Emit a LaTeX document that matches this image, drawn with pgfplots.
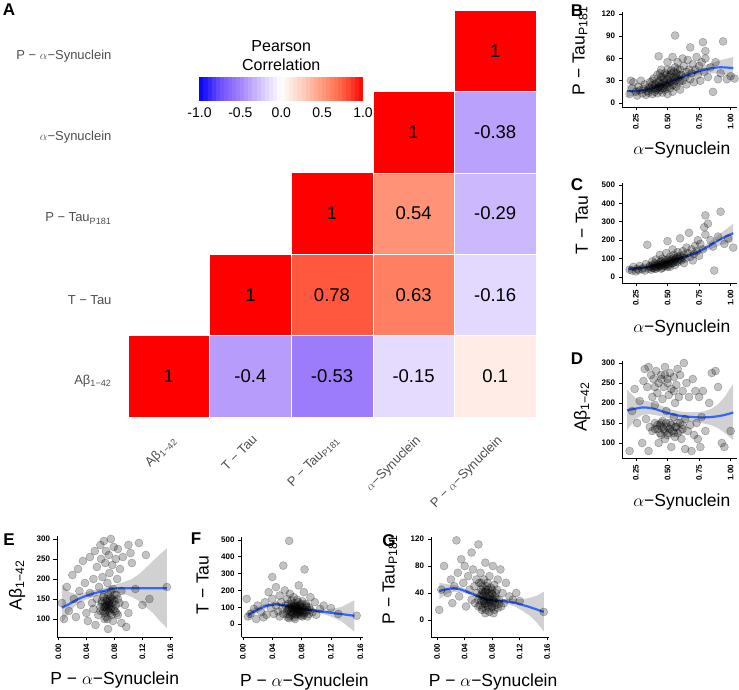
\documentclass[border=0pt]{standalone}
\usepackage{pgfplots}
\pgfplotsset{compat=1.18}
\usepackage{pgfplotstable}
\usepackage{fontspec}
\setmainfont{Liberation Sans}
\definecolor{axgray}{HTML}{4D4D4D}
\definecolor{fitblue}{HTML}{3366FF}
\pgfplotsset{
  colormap={corr}{rgb255(0cm)=(0,0,255) rgb255(1cm)=(110,80,255) rgb255(2cm)=(163,130,251) rgb255(3cm)=(212,196,253) rgb255(4cm)=(255,255,255) rgb255(5cm)=(255,208,193) rgb255(6cm)=(255,155,128) rgb255(7cm)=(255,100,70) rgb255(8cm)=(255,0,0)},
  sc/.style={scale only axis, axis x line*=bottom, axis y line*=left,
    axis line style={line width=0.8pt,-}, tick style={line width=0.8pt,black},
    tick align=outside, major tick length=3.5pt,
    x tick label style={rotate=90, anchor=east, font=\bfseries\fontsize{8}{9}\selectfont},
    y tick label style={font=\bfseries\fontsize{8}{9}\selectfont},
    /pgf/number format/assume math mode=true,
    label style={font=\fontsize{17.5}{20}\selectfont},
  },
  pts/.style={only marks, mark=*, mark size=4pt, mark options={fill=black, fill opacity=0.24, draw=black, draw opacity=0.28, line width=0.5pt}},
  band/.style={fill=black!40, fill opacity=0.45, draw=none, no marks},
  fitl/.style={color=fitblue, line width=2.2pt, no marks, smooth},
}
% correlation matrix (lower triangle)
\pgfplotstableread{
x y c lbl
1 1 1 1
2 1 -0.40 -0.4
3 1 -0.53 -0.53
4 1 -0.15 -0.15
5 1 0.10 0.1
2 2 1 1
3 2 0.78 0.78
4 2 0.63 0.63
5 2 -0.16 -0.16
3 3 1 1
4 3 0.54 0.54
5 3 -0.29 -0.29
4 4 1 1
5 4 -0.38 -0.38
5 5 1 1
}\corrtab
% B: alpha-Syn vs P-Tau
\pgfplotstableread{
x y
0.20 12
0.21 30
0.22 20
0.23 28
0.25 15
0.26 10
0.27 22
0.28 17
0.29 30
0.30 13
0.31 19
0.32 25
0.33 11
0.34 16
0.35 21
0.35 14
0.36 28
0.37 18
0.38 12
0.38 24
0.39 33
0.40 15
0.40 20
0.41 27
0.42 13
0.42 38
0.43 22
0.43 63
0.44 17
0.44 30
0.45 25
0.45 45
0.46 14
0.46 35
0.47 20
0.47 28
0.48 40
0.48 18
0.49 24
0.50 32
0.50 12
0.50 55
0.51 27
0.52 38
0.52 20
0.53 44
0.53 30
0.54 15
0.54 62
0.55 35
0.55 25
0.56 48
0.56 91
0.57 22
0.57 40
0.58 33
0.58 55
0.59 28
0.60 45
0.60 18
0.61 38
0.62 60
0.62 30
0.63 50
0.64 35
0.65 25
0.65 42
0.66 58
0.67 45
0.68 32
0.68 75
0.69 40
0.70 52
0.71 28
0.72 45
0.73 62
0.74 38
0.75 50
0.76 30
0.77 55
0.78 82
0.79 42
0.80 70
0.80 60
0.82 35
0.84 48
0.86 15
0.88 55
0.90 32
0.92 40
0.94 83
0.97 32
1.00 36
1.03 33
0.36 20
0.38 30
0.40 25
0.41 18
0.43 28
0.44 22
0.45 35
0.46 20
0.47 32
0.48 25
0.49 38
0.50 22
0.51 35
0.52 28
0.53 40
0.54 24
0.55 42
0.56 30
0.57 35
0.58 45
0.59 38
0.60 30
0.44 40
0.50 45
0.42 20
}\ptsB
\pgfplotstableread{
x fit
0.18 16
0.25 16
0.30 17
0.35 19
0.40 21
0.45 24
0.50 27
0.55 31
0.60 34
0.65 37
0.70 40
0.75 43
0.80 45
0.85 47
0.90 48
0.95 48
1.02 47
}\fitB
\pgfplotstableread{
x y
0.18 24
0.25 21
0.30 21
0.35 23
0.40 25
0.45 27
0.50 30
0.55 34
0.60 38
0.65 41
0.70 45
0.75 48
0.80 51
0.85 54
0.90 57
0.95 59
1.02 62
1.02 33
0.95 38
0.90 40
0.85 40
0.80 40
0.75 38
0.70 36
0.65 33
0.60 30
0.55 27
0.50 23
0.45 20
0.40 17
0.35 15
0.30 13
0.25 11
0.18 8
}\bandB
% C: alpha-Syn vs T-Tau
\pgfplotstableread{
x y
0.20 40
0.22 35
0.23 55
0.25 30
0.26 45
0.27 38
0.28 60
0.30 42
0.31 50
0.32 35
0.33 70
0.34 175
0.35 45
0.36 55
0.37 40
0.38 65
0.38 85
0.39 50
0.40 60
0.41 45
0.41 95
0.42 70
0.43 55
0.44 80
0.44 120
0.45 65
0.46 50
0.46 100
0.47 75
0.48 90
0.48 60
0.49 130
0.50 70
0.50 195
0.51 85
0.52 110
0.52 55
0.53 95
0.54 75
0.54 150
0.55 120
0.55 90
0.56 65
0.57 105
0.58 135
0.58 80
0.59 100
0.60 210
0.60 115
0.61 90
0.62 140
0.63 75
0.63 120
0.64 100
0.65 160
0.66 130
0.67 240
0.68 110
0.69 150
0.70 90
0.71 125
0.72 170
0.73 140
0.74 200
0.75 115
0.76 180
0.78 150
0.79 270
0.80 335
0.80 230
0.82 290
0.84 200
0.86 165
0.87 35
0.90 220
0.92 355
0.95 180
0.98 210
1.02 160
0.36 60
0.38 50
0.40 75
0.41 55
0.43 65
0.44 60
0.45 85
0.46 70
0.47 60
0.48 80
0.49 70
0.50 95
0.51 65
0.52 85
0.53 75
0.54 100
0.55 80
0.56 95
0.57 85
0.58 110
0.60 95
0.62 105
0.45 45
0.50 55
0.40 45
}\ptsC
\pgfplotstableread{
x fit
0.19 43
0.25 47
0.30 50
0.35 54
0.40 62
0.45 72
0.50 82
0.55 92
0.60 102
0.65 113
0.70 124
0.75 140
0.80 157
0.85 178
0.90 198
0.95 216
1.02 238
}\fitC
\pgfplotstableread{
x y
0.19 58
0.25 56
0.30 56
0.35 60
0.40 68
0.45 78
0.50 88
0.55 98
0.60 110
0.65 122
0.70 135
0.75 154
0.80 174
0.85 200
0.90 228
0.95 252
1.02 290
1.02 190
0.95 180
0.90 168
0.85 155
0.80 140
0.75 126
0.70 113
0.65 104
0.60 94
0.55 86
0.50 76
0.45 66
0.40 56
0.35 49
0.30 44
0.25 38
0.19 28
}\bandC
% D: alpha-Syn vs Abeta
\pgfplotstableread{
x y
0.20 80
0.22 180
0.24 235
0.26 150
0.28 205
0.30 100
0.31 255
0.32 285
0.33 160
0.34 240
0.35 80
0.35 290
0.36 140
0.37 270
0.38 215
0.38 130
0.39 260
0.40 150
0.40 195
0.41 280
0.42 135
0.42 225
0.43 100
0.43 250
0.44 145
0.45 270
0.45 120
0.46 210
0.46 155
0.47 240
0.47 135
0.48 290
0.48 110
0.49 180
0.50 260
0.50 140
0.51 125
0.51 220
0.52 275
0.52 150
0.53 90
0.53 235
0.54 130
0.55 265
0.55 165
0.56 200
0.56 115
0.57 245
0.57 140
0.58 285
0.58 125
0.59 215
0.60 150
0.60 270
0.61 110
0.62 230
0.62 135
0.63 300
0.64 160
0.64 85
0.65 250
0.66 130
0.67 215
0.68 145
0.69 80
0.70 260
0.71 120
0.72 230
0.73 150
0.74 110
0.75 215
0.76 90
0.77 165
0.78 230
0.80 130
0.83 200
0.85 275
0.88 280
0.90 240
0.93 100
0.95 90
1.00 130
0.40 135
0.42 145
0.44 125
0.45 150
0.46 140
0.48 130
0.49 150
0.50 120
0.52 135
0.53 145
0.55 125
0.56 140
0.58 150
0.60 130
0.62 145
0.45 260
0.50 250
0.40 240
0.55 230
0.48 270
}\ptsD
\pgfplotstableread{
x fit
0.18 182
0.25 186
0.30 189
0.35 188
0.40 185
0.45 180
0.50 175
0.55 171
0.60 168
0.65 166
0.70 165
0.75 164
0.80 164
0.85 165
0.90 167
0.95 170
1.02 176
}\fitD
\pgfplotstableread{
x y
0.18 233
0.25 212
0.30 207
0.35 204
0.40 199
0.45 193
0.50 187
0.55 182
0.60 179
0.65 177
0.70 177
0.75 177
0.80 180
0.85 186
0.90 197
0.95 214
1.02 248
1.02 107
0.95 126
0.90 137
0.85 144
0.80 148
0.75 151
0.70 153
0.65 155
0.60 157
0.55 160
0.50 163
0.45 167
0.40 170
0.35 172
0.30 170
0.25 160
0.18 132
}\bandD
% E: P-alpha-Syn vs Abeta
\pgfplotstableread{
x y
0.005 140
0.008 100
0.012 180
0.015 120
0.020 210
0.022 150
0.025 105
0.028 225
0.030 170
0.032 135
0.035 245
0.038 190
0.040 115
0.042 95
0.045 255
0.045 165
0.048 140
0.050 200
0.050 125
0.052 270
0.053 85
0.055 150
0.055 230
0.057 110
0.058 180
0.060 285
0.060 130
0.061 250
0.062 145
0.063 205
0.064 120
0.065 295
0.065 160
0.065 130
0.066 100
0.066 140
0.067 240
0.068 135
0.068 270
0.068 120
0.069 150
0.070 190
0.070 125
0.070 135
0.071 75
0.072 260
0.072 140
0.072 130
0.073 215
0.073 145
0.074 115
0.075 300
0.075 155
0.075 125
0.076 130
0.077 235
0.077 150
0.078 95
0.078 175
0.079 280
0.080 145
0.081 120
0.082 250
0.083 160
0.084 200
0.085 110
0.085 275
0.087 140
0.088 225
0.090 90
0.090 170
0.092 255
0.095 135
0.097 80
0.100 285
0.100 115
0.103 265
0.105 240
0.110 175
0.115 290
0.120 135
0.125 260
0.130 150
0.155 180
0.060 120
0.062 140
0.064 155
0.066 115
0.067 130
0.069 145
0.071 160
0.072 120
0.073 135
0.074 150
0.076 110
0.077 140
0.079 125
0.080 160
0.082 135
0.083 115
0.085 150
0.068 105
0.075 170
0.070 100
}\ptsE
\pgfplotstableread{
x fit
0.005 128
0.015 137
0.025 147
0.035 155
0.045 161
0.055 166
0.065 170
0.075 175
0.085 177
0.095 177
0.105 177
0.115 177
0.125 177
0.135 177
0.145 177
0.155 177
}\fitE
\pgfplotstableread{
x y
0.005 186
0.015 168
0.025 162
0.035 165
0.045 170
0.055 174
0.065 177
0.075 183
0.085 188
0.095 193
0.105 200
0.115 212
0.125 228
0.135 245
0.145 262
0.155 277
0.155 77
0.145 95
0.135 115
0.125 130
0.115 145
0.105 155
0.095 162
0.085 166
0.075 167
0.065 163
0.055 158
0.045 152
0.035 145
0.025 135
0.015 115
0.005 90
}\bandE
% F: P-alpha-Syn vs T-Tau
\pgfplotstableread{
x y
0.005 150
0.007 45
0.010 60
0.015 90
0.018 30
0.020 110
0.025 70
0.028 40
0.030 130
0.032 55
0.035 190
0.038 95
0.040 150
0.040 280
0.042 60
0.045 220
0.045 110
0.048 75
0.050 170
0.050 45
0.052 130
0.054 90
0.055 348
0.055 60
0.057 200
0.058 110
0.060 80
0.060 150
0.061 40
0.062 120
0.063 495
0.063 95
0.064 180
0.065 70
0.065 100
0.066 140
0.067 55
0.068 105
0.068 90
0.069 160
0.070 85
0.070 125
0.070 110
0.071 30
0.072 110
0.072 95
0.073 60
0.074 145
0.074 105
0.075 90
0.075 80
0.076 230
0.077 75
0.078 115
0.078 70
0.079 50
0.080 100
0.080 120
0.081 135
0.082 65
0.083 190
0.084 325
0.085 85
0.086 120
0.088 45
0.090 100
0.092 160
0.095 70
0.098 130
0.100 55
0.105 90
0.110 110
0.120 95
0.130 60
0.155 50
0.060 60
0.062 85
0.064 50
0.066 75
0.067 95
0.069 65
0.071 80
0.072 55
0.073 100
0.074 70
0.076 90
0.077 60
0.079 85
0.080 75
0.082 95
0.083 55
0.085 70
0.087 100
0.088 80
0.090 60
0.066 115
0.070 40
0.075 130
0.081 45
0.078 105
0.063 35
0.086 110
0.092 85
}\ptsF
\pgfplotstableread{
x fit
0.007 53
0.015 75
0.025 96
0.035 112
0.045 118
0.055 112
0.065 104
0.075 94
0.085 88
0.095 82
0.105 76
0.115 70
0.125 64
0.135 59
0.152 49
}\fitF
\pgfplotstableread{
x y
0.007 82
0.015 95
0.025 112
0.035 124
0.045 128
0.055 120
0.065 110
0.075 99
0.085 94
0.095 90
0.105 87
0.115 88
0.125 93
0.135 103
0.152 142
0.152 -45
0.135 15
0.125 35
0.115 52
0.105 65
0.095 74
0.085 82
0.075 89
0.065 98
0.055 104
0.045 108
0.035 100
0.025 80
0.015 55
0.007 25
}\bandF
% G: P-alpha-Syn vs P-Tau
\pgfplotstableread{
x y
0.003 15
0.006 45
0.010 80
0.015 40
0.020 60
0.022 25
0.025 50
0.028 118
0.030 70
0.032 35
0.035 90
0.038 55
0.040 80
0.042 20
0.045 65
0.047 45
0.050 100
0.050 30
0.052 75
0.054 50
0.055 25
0.057 60
0.058 40
0.060 112
0.060 20
0.061 55
0.062 35
0.063 70
0.064 45
0.065 15
0.065 38
0.066 50
0.067 30
0.068 60
0.068 28
0.069 40
0.070 85
0.070 25
0.070 42
0.071 45
0.072 35
0.072 50
0.073 55
0.074 20
0.075 40
0.075 32
0.076 65
0.077 30
0.078 48
0.079 18
0.080 38
0.080 45
0.081 80
0.082 28
0.083 52
0.084 35
0.085 22
0.087 45
0.088 60
0.090 30
0.092 75
0.095 40
0.097 25
0.100 55
0.105 35
0.110 30
0.115 40
0.120 28
0.155 12
0.060 30
0.062 22
0.064 28
0.066 18
0.067 35
0.069 24
0.071 15
0.072 30
0.073 22
0.075 27
0.076 12
0.077 35
0.078 25
0.080 20
0.081 30
0.083 15
0.084 26
0.086 32
0.088 18
0.090 24
0.066 42
0.070 10
0.074 45
0.079 40
0.082 10
0.093 20
0.064 55
0.085 40
}\ptsG
\pgfplotstableread{
x fit
0.003 43
0.015 46
0.025 47
0.035 45
0.045 41
0.055 37
0.065 33
0.075 30
0.085 28.5
0.095 28
0.105 27
0.115 25
0.125 22
0.135 19
0.145 15.5
0.155 12
}\fitG
\pgfplotstableread{
x y
0.003 55
0.015 53
0.025 52
0.035 49
0.045 44
0.055 39.5
0.065 35
0.075 32
0.085 31
0.095 31
0.105 31
0.115 31
0.125 31
0.135 33
0.145 36
0.155 42
0.155 -17
0.145 -4
0.135 6
0.125 13
0.115 19
0.105 23
0.095 25
0.085 26
0.075 28
0.065 31
0.055 34.5
0.045 38
0.035 41
0.025 42
0.015 39
0.003 31
}\bandG
\begin{document}
\begin{tikzpicture}
\path[use as bounding box] (0,0) rectangle (739pt,690pt);
% ---------------- A: heatmap ----------------
\begin{axis}[at={(128pt,273pt)}, anchor=south west, scale only axis,
  width=408pt, height=407pt,
  xmin=0.5, xmax=5.5, ymin=0.5, ymax=5.5,
  axis line style={draw=none}, major tick length=0pt,
  xtick={1,...,5}, ytick={1,...,5},
  xticklabels={Aβ\textsubscript{1−42}, T − Tau, P − Tau\textsubscript{P181}, $\alpha$−Synuclein, P − $\alpha$−Synuclein},
  yticklabels={Aβ\textsubscript{1−42}, T − Tau, P − Tau\textsubscript{P181}, $\alpha$−Synuclein, P − $\alpha$−Synuclein},
  xticklabel style={font=\fontsize{13}{13}\selectfont, text=axgray, inner sep=0pt, xshift=1pt, yshift=-17pt, rotate=45, anchor=north east},
  yticklabel style={font=\fontsize{13}{13}\selectfont, text=axgray, xshift=-13pt, yshift=-5pt},
  colormap name=corr, point meta min=-1, point meta max=1,
  clip=false,
]
\addplot[scatter, only marks, mark=square*, mark size=40.8pt,
  scatter src=explicit,
  scatter/use mapped color={draw=white, fill=mapped color, line width=0.6pt},
] table[x=x, y=y, meta=c] {\corrtab};
\addplot[only marks, mark=none, point meta=explicit symbolic,
  nodes near coords,
  every node near coord/.append style={anchor=center, text=black, font=\fontsize{18.5}{20}\selectfont},
] table[x=x, y=y, meta=lbl] {\corrtab};
\end{axis}
% ---------------- colour key ----------------
\begin{axis}[at={(199.5pt,589pt)}, anchor=south west, scale only axis,
  width=163.5pt, height=24pt, xmin=-1, xmax=1, ymin=0, ymax=1,
  axis line style={draw=none}, ytick=\empty,
  xtick={-1,-0.5,0,0.5,1}, xticklabels={-1.0,-0.5,0.0,0.5,1.0},
  xtick pos=both, xticklabel pos=lower,
  xtick style={draw=white, line width=0.8pt}, major tick length=4pt, tick align=inside,
  xticklabel style={font=\fontsize{14}{14}\selectfont, yshift=-3pt},
  axis on top,
  colormap name=corr, point meta min=-1, point meta max=1,
  title={Pearson\\Correlation},
  title style={align=center, font=\fontsize{16}{19}\selectfont, at={(0.5,1)}, anchor=south, yshift=0pt, inner sep=0pt},
]
\addplot[scatter, only marks, mark=|, mark size=12pt, point meta=x,
  scatter/use mapped color={draw=mapped color, line width=4.4pt}]
coordinates {(-0.975,0.5) (-0.925,0.5) (-0.875,0.5) (-0.825,0.5) (-0.775,0.5) (-0.725,0.5) (-0.675,0.5) (-0.625,0.5) (-0.575,0.5) (-0.525,0.5)
(-0.475,0.5) (-0.425,0.5) (-0.375,0.5) (-0.325,0.5) (-0.275,0.5) (-0.225,0.5) (-0.175,0.5) (-0.125,0.5) (-0.075,0.5) (-0.025,0.5)
(0.025,0.5) (0.075,0.5) (0.125,0.5) (0.175,0.5) (0.225,0.5) (0.275,0.5) (0.325,0.5) (0.375,0.5) (0.425,0.5) (0.475,0.5)
(0.525,0.5) (0.575,0.5) (0.625,0.5) (0.675,0.5) (0.725,0.5) (0.775,0.5) (0.825,0.5) (0.875,0.5) (0.925,0.5) (0.975,0.5)};
\end{axis}
% ---------------- B ----------------
\begin{axis}[sc, at={(622pt,583pt)}, anchor=south west, width=115pt, height=95pt,
  xmin=0.14, xmax=1.05, ymin=-5.4, ymax=122.7,
  xtick={0.25,0.5,0.75,1}, xticklabels={0.25,0.50,0.75,1.00},
  ytick={0,30,60,90,120},
  xlabel={$\alpha$−Synuclein}, ylabel={P − Tau\textsubscript{P181}},
  xlabel style={at={(axis description cs:0.52,-0.45)}, anchor=center},
  ylabel style={at={(axis description cs:-0.365,0.59)}, anchor=center},
]
\addplot[pts] table[x=x,y=y] {\ptsB};
\addplot[band] table[x=x,y=y] {\bandB};
\addplot[fitl] table[x=x,y=fit] {\fitB};
\end{axis}
% ---------------- C ----------------
\begin{axis}[sc, at={(622pt,407pt)}, anchor=south west, width=115pt, height=100pt,
  xmin=0.14, xmax=1.05, ymin=-32.6, ymax=511,
  xtick={0.25,0.5,0.75,1}, xticklabels={0.25,0.50,0.75,1.00},
  ytick={0,100,200,300,400,500},
  xlabel={$\alpha$−Synuclein}, ylabel={T − Tau},
  xlabel style={at={(axis description cs:0.52,-0.45)}, anchor=center},
  ylabel style={at={(axis description cs:-0.348,0.58)}, anchor=center},
]
\addplot[pts] table[x=x,y=y] {\ptsC};
\addplot[band] table[x=x,y=y] {\bandC};
\addplot[fitl] table[x=x,y=fit] {\fitC};
\end{axis}
% ---------------- D ----------------
\begin{axis}[sc, at={(622pt,232pt)}, anchor=south west, width=115pt, height=97pt,
  xmin=0.14, xmax=1.05, ymin=62.5, ymax=305,
  xtick={0.25,0.5,0.75,1}, xticklabels={0.25,0.50,0.75,1.00},
  ytick={100,150,200,250,300},
  xlabel={$\alpha$−Synuclein}, ylabel={Aβ\textsubscript{1−42}},
  xlabel style={at={(axis description cs:0.52,-0.45)}, anchor=center},
  ylabel style={at={(axis description cs:-0.348,0.526)}, anchor=center},
]
\addplot[pts] table[x=x,y=y] {\ptsD};
\addplot[band] table[x=x,y=y] {\bandD};
\addplot[fitl] table[x=x,y=fit] {\fitD};
\end{axis}
% ---------------- E ----------------
\begin{axis}[sc, at={(57pt,53pt)}, anchor=south west, width=115.5pt, height=101pt,
  xmin=-0.002, xmax=0.163, ymin=55, ymax=307.5,
  xtick={0,0.04,0.08,0.12,0.16}, xticklabels={0.00,0.04,0.08,0.12,0.16},
  ytick={100,150,200,250,300},
  xlabel={P − $\alpha$−Synuclein}, ylabel={Aβ\textsubscript{1−42}},
  xlabel style={at={(axis description cs:0.50,-0.43)}, anchor=center},
  ylabel style={at={(axis description cs:-0.346,0.51)}, anchor=center},
]
\addplot[pts] table[x=x,y=y] {\ptsE};
\addplot[band] table[x=x,y=y] {\bandE};
\addplot[fitl] table[x=x,y=fit] {\fitE};
\end{axis}
% ---------------- F ----------------
\begin{axis}[sc, at={(241.5pt,53pt)}, anchor=south west, width=121pt, height=100pt,
  xmin=-0.002, xmax=0.163, ymin=-77, ymax=518,
  xtick={0,0.04,0.08,0.12,0.16}, xticklabels={0.00,0.04,0.08,0.12,0.16},
  ytick={0,100,200,300,400,500},
  xlabel={P − $\alpha$−Synuclein}, ylabel={T − Tau},
  xlabel style={at={(axis description cs:0.52,-0.45)}, anchor=center},
  ylabel style={at={(axis description cs:-0.32,0.52)}, anchor=center},
]
\addplot[pts] table[x=x,y=y] {\ptsF};
\addplot[band] table[x=x,y=y] {\bandF};
\addplot[fitl] table[x=x,y=fit] {\fitF};
\end{axis}
% ---------------- G ----------------
\begin{axis}[sc, at={(431pt,53pt)}, anchor=south west, width=118.25pt, height=100pt,
  xmin=-0.009, xmax=0.163, ymin=-25.2, ymax=123,
  xtick={0,0.04,0.08,0.12,0.16}, xticklabels={0.00,0.04,0.08,0.12,0.16},
  ytick={0,40,80,120},
  xlabel={P − $\alpha$−Synuclein}, ylabel={P − Tau\textsubscript{P181}},
  xlabel style={at={(axis description cs:0.525,-0.45)}, anchor=center},
  ylabel style={at={(axis description cs:-0.347,0.57)}, anchor=center},
]
\addplot[pts] table[x=x,y=y] {\ptsG};
\addplot[band] table[x=x,y=y] {\bandG};
\addplot[fitl] table[x=x,y=fit] {\fitG};
\end{axis}
% panel letters
\begin{scope}[every node/.style={font=\bfseries\fontsize{17}{17}\selectfont, inner sep=0pt, anchor=center}]
\node at (9pt,680pt) {A};
\node at (577pt,679pt) {B};
\node at (577pt,505pt) {C};
\node at (577pt,331pt) {D};
\node at (9pt,150pt) {E};
\node at (196pt,151pt) {F};
\node at (389pt,149pt) {G};
\end{scope}
\end{tikzpicture}
\end{document}
